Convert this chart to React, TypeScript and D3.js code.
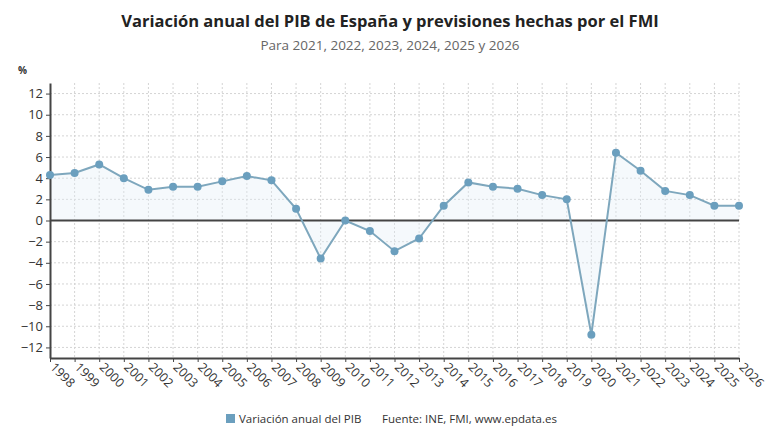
import React, { useRef, useEffect } from "react";
import * as d3 from "d3";

// años y variación anual del PIB (%)
const years = [
  1998, 1999, 2000, 2001, 2002, 2003, 2004, 2005, 2006, 2007, 2008, 2009, 2010,
  2011, 2012, 2013, 2014, 2015, 2016, 2017, 2018, 2019, 2020, 2021, 2022, 2023,
  2024, 2025, 2026,
];
const pib = [
  4.3, 4.5, 5.3, 4.0, 2.9, 3.2, 3.2, 3.7, 4.2, 3.8, 1.1, -3.6, 0.0, -1.0, -2.9,
  -1.7, 1.4, 3.6, 3.2, 3.0, 2.4, 2.0, -10.8, 6.4, 4.7, 2.8, 2.4, 1.4, 1.4,
];
const yTicks = [-12, -10, -8, -6, -4, -2, 0, 2, 4, 6, 8, 10, 12];

const title = "Variación anual del PIB de España y previsiones hechas por el FMI";
const subtitle = "Para 2021, 2022, 2023, 2024, 2025 y 2026";
const legendLabel = "Variación anual del PIB";
const source = "Fuente: INE, FMI, www.epdata.es";

const App = () => {
  const ref = useRef<SVGSVGElement>(null);
  const width = 780;
  const height = 440;
  const margin = { top: 83, right: 41, bottom: 82, left: 50 };
  const font = "'Open Sans', sans-serif";

  useEffect(() => {
    const svg = d3.select(ref.current);
    svg.selectAll("*").remove();

    const data = years.map((y, i) => ({ year: y, value: pib[i] }));

    const x = d3
      .scaleLinear()
      .domain([1998, 2026])
      .range([margin.left, width - margin.right]);
    const y = d3
      .scaleLinear()
      .domain([-13, 13])
      .range([height - margin.bottom, margin.top]);

    // título
    svg
      .append("text")
      .attr("x", width / 2)
      .attr("y", 27)
      .attr("text-anchor", "middle")
      .attr("font-family", font)
      .attr("font-weight", 700)
      .attr("font-size", 16.5)
      .attr("fill", "#222")
      .text(title);
    svg
      .append("text")
      .attr("x", width / 2)
      .attr("y", 50)
      .attr("text-anchor", "middle")
      .attr("font-family", font)
      .attr("font-size", 13.5)
      .attr("fill", "#666")
      .text(subtitle);
    svg
      .append("text")
      .attr("x", 18)
      .attr("y", 74)
      .attr("font-family", font)
      .attr("font-weight", 700)
      .attr("font-size", 10)
      .attr("fill", "#333")
      .text("%");

    // rejilla
    const grid = svg.append("g");
    grid
      .selectAll(".hg")
      .data(yTicks)
      .enter()
      .append("line")
      .attr("x1", margin.left)
      .attr("x2", width - margin.right)
      .attr("y1", (d) => y(d))
      .attr("y2", (d) => y(d))
      .attr("stroke", "#d4d4d4")
      .attr("stroke-dasharray", "2,2");
    grid
      .selectAll(".vg")
      .data(years.slice(1))
      .enter()
      .append("line")
      .attr("x1", (d) => x(d))
      .attr("x2", (d) => x(d))
      .attr("y1", margin.top)
      .attr("y2", height - margin.bottom)
      .attr("stroke", "#d4d4d4")
      .attr("stroke-dasharray", "2,2");

    // área
    const area = d3
      .area<any>()
      .x((d) => x(d.year))
      .y0(y(0))
      .y1((d) => y(d.value));
    svg
      .append("path")
      .datum(data)
      .attr("d", area)
      .attr("fill", "#e3eff7")
      .attr("opacity", 0.35);

    // línea cero
    svg
      .append("line")
      .attr("x1", margin.left)
      .attr("x2", width - margin.right)
      .attr("y1", y(0))
      .attr("y2", y(0))
      .attr("stroke", "#444")
      .attr("stroke-width", 2);

    // eje y
    const yAxis = svg
      .append("g")
      .attr("transform", `translate(${margin.left},0)`)
      .call(d3.axisLeft(y).tickValues(yTicks).tickSize(4).tickSizeOuter(0));
    yAxis.select(".domain").attr("stroke", "#444").attr("stroke-width", 2);
    yAxis.selectAll(".tick line").attr("stroke", "#444");
    yAxis
      .selectAll("text")
      .attr("font-family", font)
      .attr("font-size", 13)
      .attr("fill", "#333");

    // eje x
    const xAxis = svg
      .append("g")
      .attr("transform", `translate(0,${height - margin.bottom})`)
      .call(
        d3
          .axisBottom(x)
          .tickValues(years)
          .tickFormat(d3.format("d"))
          .tickSize(4)
          .tickSizeOuter(0)
      );
    xAxis.select(".domain").attr("stroke", "#444").attr("stroke-width", 2);
    xAxis.selectAll(".tick line").attr("stroke", "#444");
    xAxis
      .selectAll("text")
      .attr("font-family", font)
      .attr("font-size", 12.5)
      .attr("fill", "#333")
      .style("text-anchor", "start")
      .attr("x", 0)
      .attr("y", 0)
      .attr("dy", 0)
      .attr("transform", "translate(-1,10) rotate(45)");

    // línea
    const line = d3
      .line<any>()
      .x((d) => x(d.year))
      .y((d) => y(d.value));
    svg
      .append("path")
      .datum(data)
      .attr("d", line)
      .attr("fill", "none")
      .attr("stroke", "#7ea7bd")
      .attr("stroke-width", 2);

    svg
      .selectAll(".dot")
      .data(data)
      .enter()
      .append("circle")
      .attr("cx", (d) => x(d.year))
      .attr("cy", (d) => y(d.value))
      .attr("r", 4)
      .attr("fill", "#6b9fbe");

    // leyenda
    svg
      .append("rect")
      .attr("x", 226)
      .attr("y", 414)
      .attr("width", 9)
      .attr("height", 9)
      .attr("fill", "#6b9fbe");
    svg
      .append("text")
      .attr("x", 239)
      .attr("y", 423)
      .attr("font-family", font)
      .attr("font-size", 11.5)
      .attr("fill", "#333")
      .text(legendLabel);
    svg
      .append("text")
      .attr("x", 382)
      .attr("y", 423)
      .attr("font-family", font)
      .attr("font-size", 11.5)
      .attr("fill", "#333")
      .text(source);
  }, []);

  return (
    <svg
      ref={ref}
      width={width}
      height={height}
      style={{ position: "absolute", left: 0, top: 0, background: "#fff" }}
    />
  );
};

export default App;
